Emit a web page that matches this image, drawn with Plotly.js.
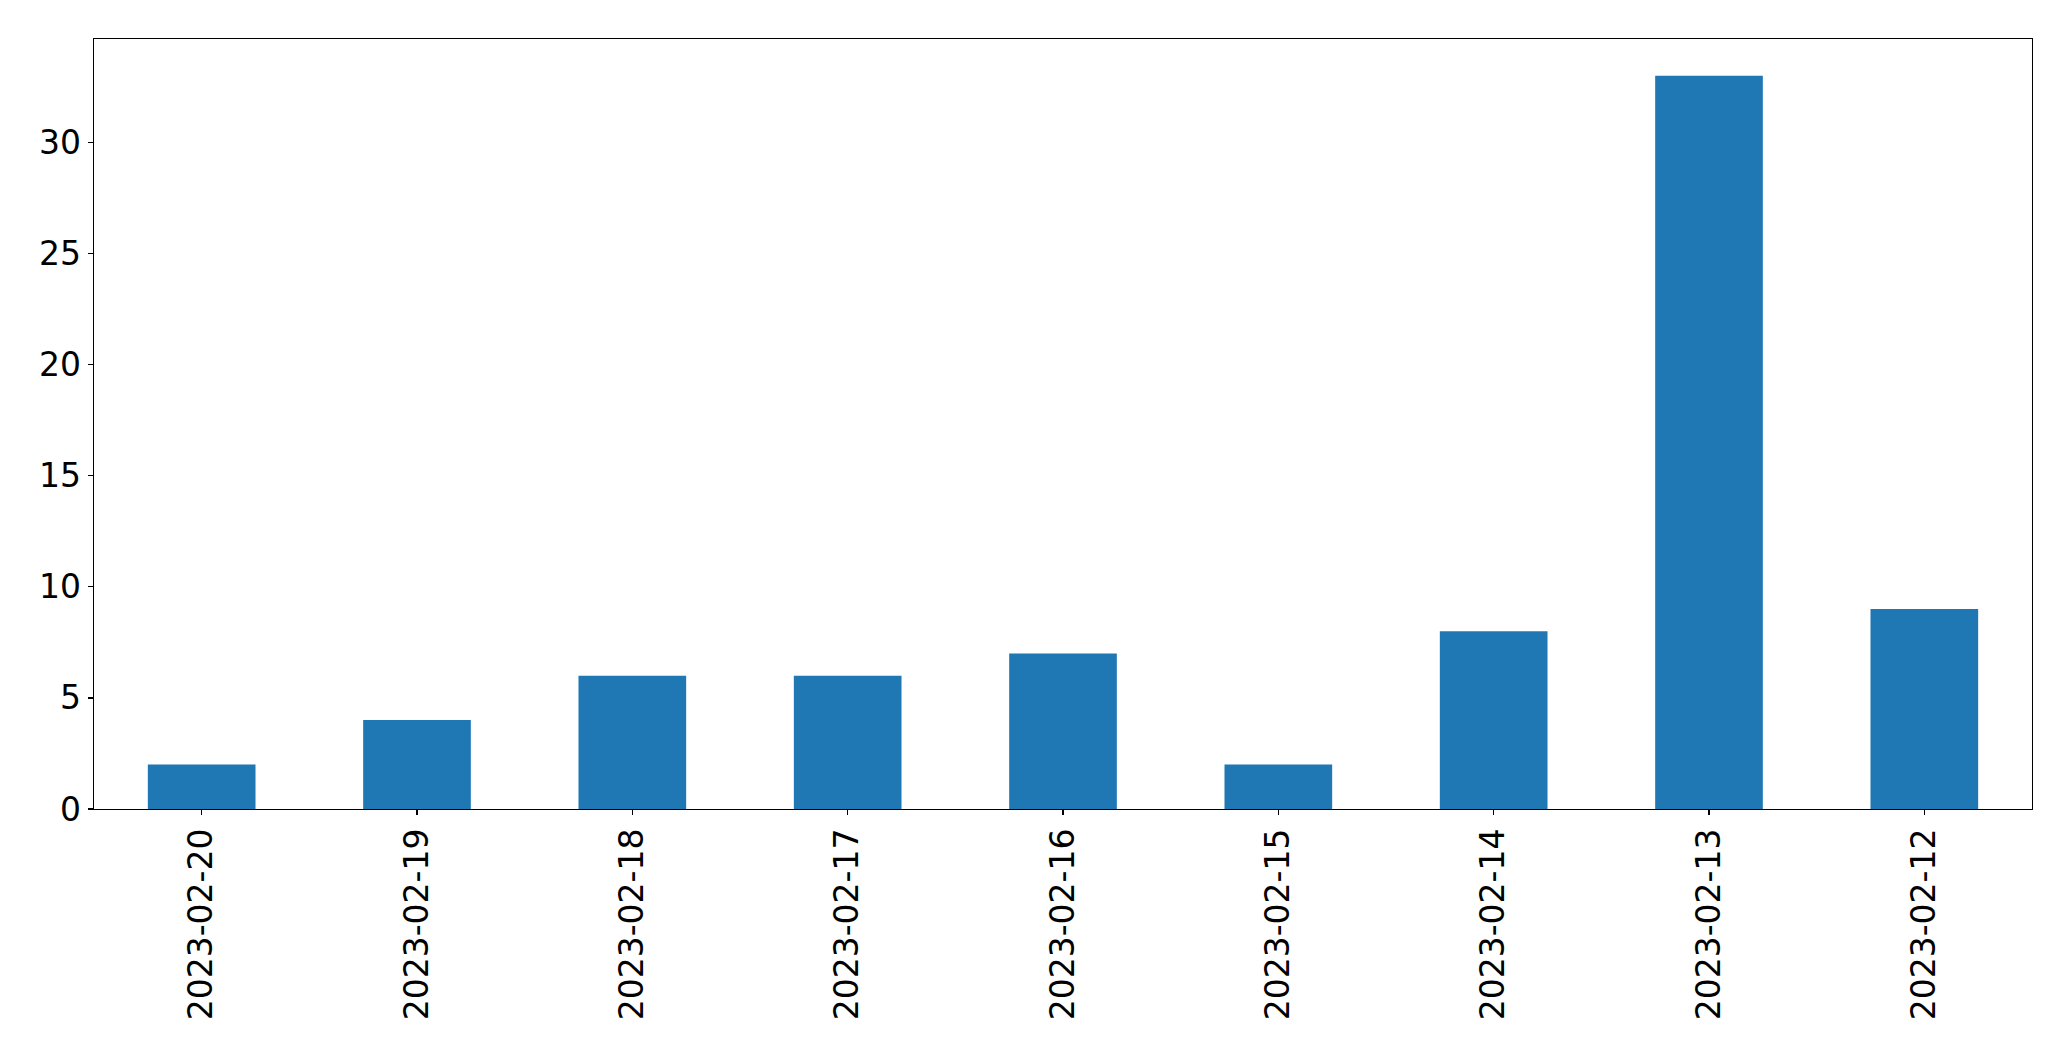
<!DOCTYPE html>
<html>
<head>
<meta charset="utf-8">
<script src="https://cdn.plot.ly/plotly-3.0.1.min.js"></script>
<style>
html,body{margin:0;padding:0;background:#fff;}
#chart{width:2071px;height:1061px;}
</style>
</head>
<body>
<div id="chart"></div>
<script>
const dates = ["2023-02-20","2023-02-19","2023-02-18","2023-02-17","2023-02-16","2023-02-15","2023-02-14","2023-02-13","2023-02-12"];
const counts = [2,4,6,6,7,2,8,33,9];
const yTicks = [0,5,10,15,20,25,30];

const trace = {
  type: 'bar',
  x: dates,
  y: counts,
  width: 0.5,
  marker: {color: '#1f77b4', line: {width: 0}},
  hoverinfo: 'x+y'
};

const layout = {
  width: 2071,
  height: 1061,
  paper_bgcolor: '#ffffff',
  plot_bgcolor: '#ffffff',
  margin: {l: 94, r: 39, t: 39, b: 252, pad: 0},
  showlegend: false,
  font: {family: 'DejaVu Sans, sans-serif', size: 33, color: '#000000'},
  xaxis: {
    type: 'category',
    range: [-0.5, 8.5],
    tickangle: -90,
    ticks: 'outside',
    ticklen: 5,
    tickwidth: 1.3,
    tickcolor: '#000',
    ticklabelstandoff: 0,
    showline: true,
    linecolor: '#000',
    linewidth: 1.3,
    mirror: true,
    showgrid: false,
    zeroline: false,
    tickfont: {family: 'DejaVu Sans, sans-serif', size: 33, color: '#000'}
  },
  yaxis: {
    range: [0, 34.65],
    tickvals: yTicks,
    ticktext: yTicks.map(String),
    ticks: 'outside',
    ticklen: 5,
    tickwidth: 1.3,
    tickcolor: '#000',
    ticklabelstandoff: 0,
    showline: true,
    linecolor: '#000',
    linewidth: 1.3,
    mirror: true,
    showgrid: false,
    zeroline: false,
    tickfont: {family: 'DejaVu Sans, sans-serif', size: 33, color: '#000'}
  },
  bargap: 0.5
};

Plotly.newPlot('chart', [trace], layout, {displayModeBar: false, staticPlot: true});
</script>
</body>
</html>
